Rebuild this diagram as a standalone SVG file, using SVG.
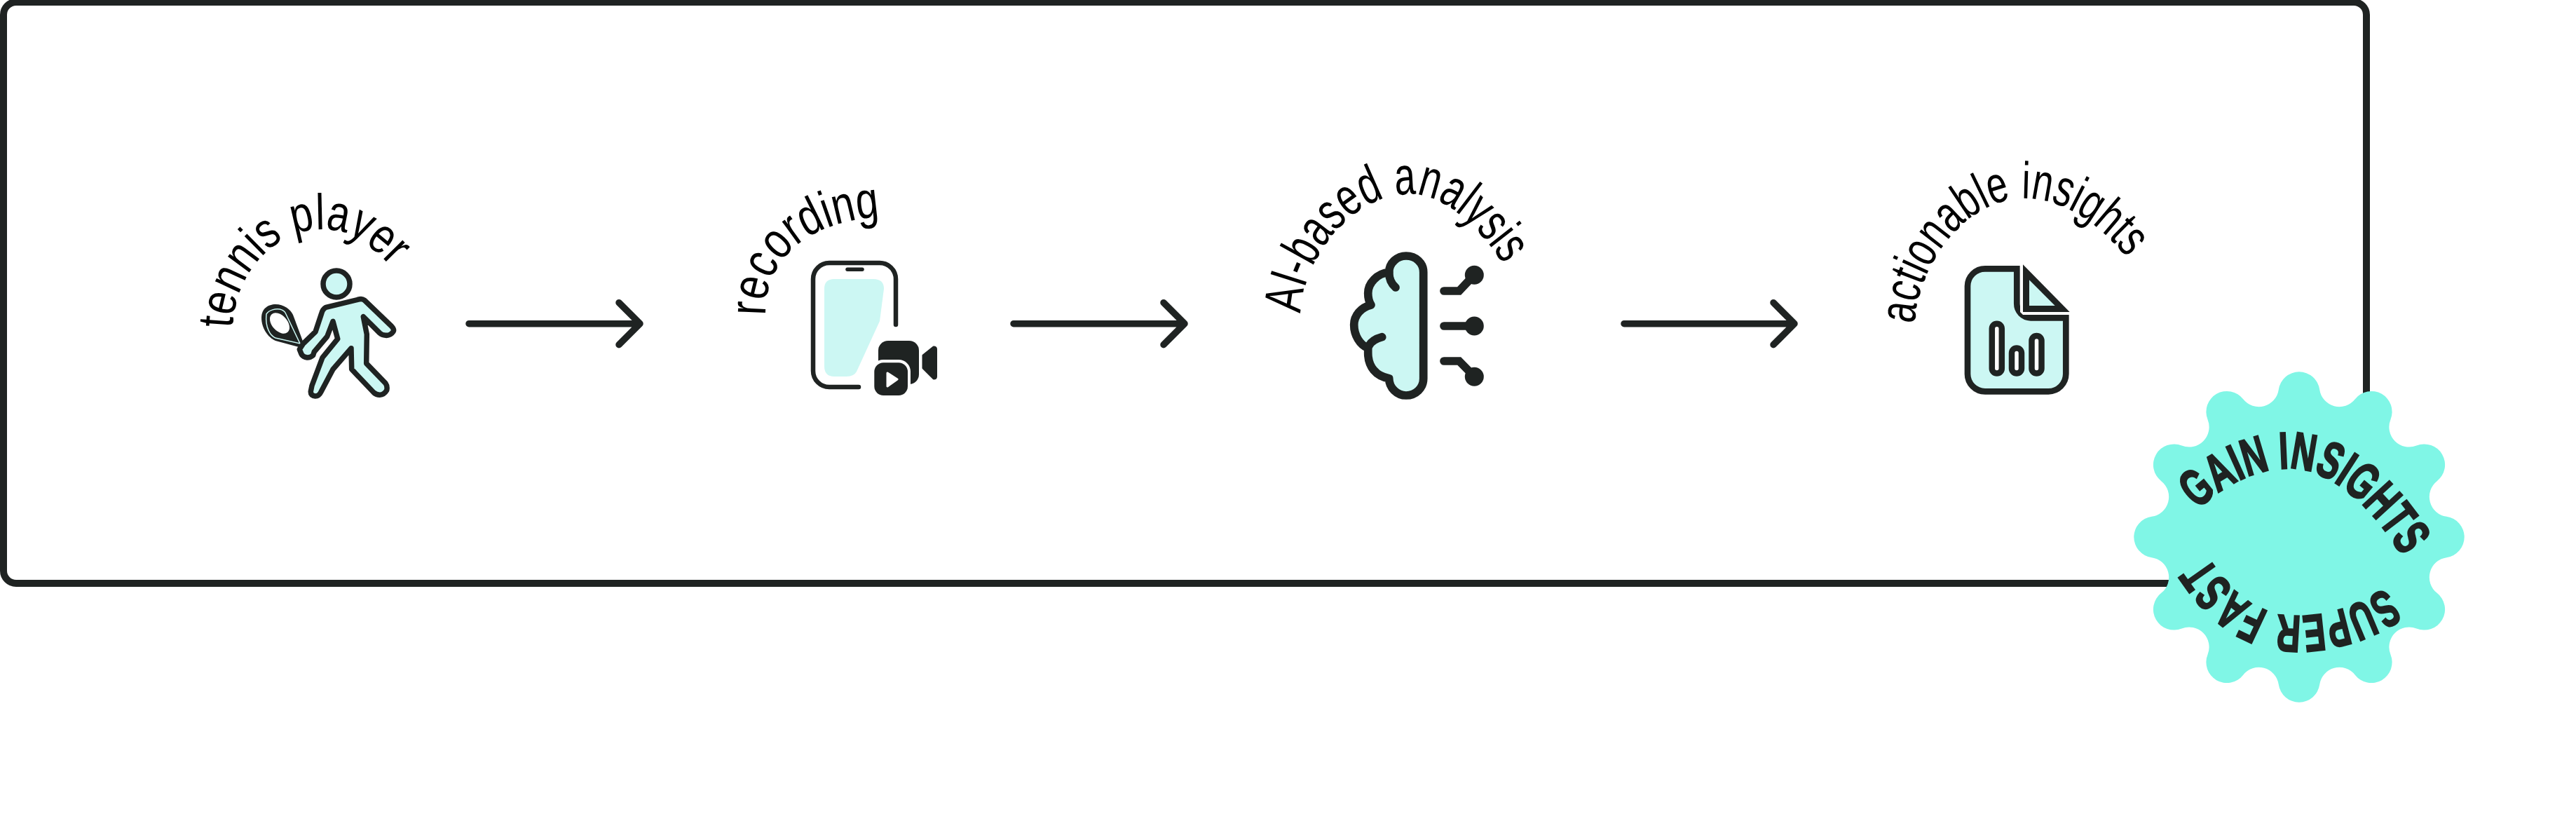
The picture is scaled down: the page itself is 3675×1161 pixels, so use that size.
<svg xmlns="http://www.w3.org/2000/svg" width="3675" height="1161" viewBox="0 0 3675 1161">
<style>
.ln{fill:none;stroke:#1f2322;stroke-linecap:round;stroke-linejoin:round}
.ic{fill:#ccf7f3;stroke:#1f2322;stroke-width:7.5;stroke-linejoin:round}
.lbl{font-family:"Liberation Sans",Arial,sans-serif;fill:#000}
.bd{font-family:"Liberation Sans",Arial,sans-serif;font-weight:700;font-size:74px;fill:#1f2322;stroke:#1f2322;stroke-width:2.5px}
.dk{fill:#1f2322}
.bar{fill:#fff;stroke:#1f2322;stroke-width:8.5}
</style>
<defs>
<path id="p1" d="M332,468 C333,400 385,328 458,327 C495,326 530,345 575,400"/>
<path id="p2" d="M1092,450 C1090,380 1140,312 1270,309"/>
<path id="p3" d="M1856,447 C1856,380 1920,280 2008,277 C2060,275 2120,325 2170,420"/>
<path id="p4" d="M2732,462 C2735,380 2800,290 2880,283 C2950,280 3010,330 3055,395"/>
<path id="p5" d="M3135,727 C3175,690 3220,668 3265,668 C3330,668 3395,730 3445,825"/>
<path id="p6" d="M3403,838 C3360,868 3310,881 3265,878 C3220,874 3175,846 3130,760"/>
</defs>
<rect width="3675" height="1161" fill="#fff"/>
<rect id="frame" x="5" y="3" width="3371" height="829" rx="18" fill="none" stroke="#1f2322" stroke-width="10"/>
<g id="connectors">
<path class="ln" stroke-width="9.5" d="M669,461.7 H913 M883,431.7 L913,461.7 L883,491.7"/>
<path class="ln" stroke-width="9.5" d="M1446,461.7 H1690 M1660,431.7 L1690,461.7 L1660,491.7"/>
<path class="ln" stroke-width="9.5" d="M2317,461.7 H2560 M2530,431.7 L2560,461.7 L2530,491.7"/>
</g>
<g id="tennis-player">
<text class="lbl" font-size="72"><textPath href="#p1" textLength="325" lengthAdjust="spacingAndGlyphs">tennis player</textPath></text>
<path class="dk" d="M373,453 C373,440 383,434 393,434 C405,434 414,441 418,449 L434,492 L430,496 L393,486 C382,481 373,468 373,453Z"/>
<path fill="none" stroke="#ccf7f3" stroke-width="1.5" d="M380,448 C384,442 393,440 399,441 C403,442 406,444 407,446 L428,490 L393,482 C386,479 378,468 380,448Z"/>
<ellipse cx="399" cy="461" rx="17" ry="11" transform="rotate(48 399 461)" fill="#fff"/>
<path class="ic" d="M465,438.3 L513.3,426.7 Q517,426 520,428.3 L558.3,465 Q563,470 561,473 Q557,479 550,478.3 Q545,478 541.7,475 L518.3,451.7 L523.3,476.7 L522.7,518.3 L550,546.7 Q553,551 551.7,556.7 Q548,563 541.7,563.3 Q537,563 533.3,560 L501.7,526.7 L501,496.7 L475,526.7 L458.3,558.3 Q455,565 450,565 Q443,564 443.3,558.3 L445,550 L460,510 L481.7,483.3 L475,458.3 L466.7,480 L448.3,501.7 L446.7,506.7 Q443,510 438.3,510 Q432,509 430,505 L427.3,498.3 L432.7,490 L450,473.3 L458.3,448.3 Q460,441 465,438.3Z"/>
<circle class="ic" cx="480" cy="405" r="19"/>
</g>
<g id="recording">
<text class="lbl" font-size="74"><textPath href="#p2" textLength="241" lengthAdjust="spacingAndGlyphs">recording</textPath></text>
<path fill="#ccf7f3" d="M1190,398 H1246 Q1261,398 1261,412 L1255,458 L1222,530 Q1218,537 1208,537 H1190 Q1176,537 1176,522 V412 Q1176,398 1190,398Z"/>
<path class="ln" stroke-width="6.5" d="M1278,463 V398 A23,23 0 0 0 1255,375 H1183 A23,23 0 0 0 1160,398 V529 A23,23 0 0 0 1183,552 H1225"/>
<path class="ln" stroke-width="5.5" d="M1209,384.3 H1230"/>
<rect class="dk" x="1253" y="486" width="58" height="62" rx="14"/>
<rect fill="#fff" x="1243" y="513" width="56" height="56" rx="17"/>
<rect class="dk" x="1247.3" y="517.3" width="47.7" height="46.7" rx="13"/>
<path fill="#fff" stroke="#fff" stroke-width="3" stroke-linejoin="round" d="M1266,532 L1280,541 L1266,551Z"/>
<path class="dk" stroke="#1f2322" stroke-width="3" stroke-linejoin="round" d="M1317,507 L1332,495 Q1335.500,495 1335.500,498 V537 Q1335.500,540 1332,540 L1317,525Z"/>
</g>
<g id="ai-analysis">
<text class="lbl" font-size="76"><textPath href="#p3" textLength="425" lengthAdjust="spacingAndGlyphs">AI-based analysis</textPath></text>
<path fill="#ccf7f3" stroke="#1f2322" stroke-width="11.700" stroke-linejoin="round" d="M1981.7,388.3 C1981.7,375 1993.3,365 2006,365 C2020,365 2030.7,375 2030.7,388.3 V540 C2030.7,553.3 2020,564 2006,564 C1993.3,564 1981.7,553.3 1981.7,539.7 C1963.3,536.7 1951.7,523.3 1951.7,503.3 V496.7 C1940,491.7 1931.7,478.3 1931.7,463.3 C1931.7,450 1941.7,438.3 1956,435 C1951.7,428.3 1951.7,423.3 1951.7,418.3 C1951.7,403.3 1965,390 1981.7,388.3 Z"/>
<path class="ln" stroke-width="11.700" d="M1981.7,388.3 C1981.7,396.7 1985,405 1991,410 M1953,493 C1957,486 1963,483 1971.7,480.7"/>
<path class="ln" stroke-width="11.700" style="stroke-linejoin:miter" d="M2060,415 H2081.700 L2103.300,392 M2060,465 H2103.300 M2060,515 H2081.700 L2103.300,537"/>
<circle class="dk" cx="2103.300" cy="392.300" r="13.500"/>
<circle class="dk" cx="2103.300" cy="465" r="13.500"/>
<circle class="dk" cx="2103.300" cy="537.300" r="13.500"/>
</g>
<g id="actionable-insights">
<text class="lbl" font-size="74"><textPath href="#p4" textLength="434" lengthAdjust="spacingAndGlyphs">actionable insights</textPath></text>
<path fill="#ccf7f3" stroke="#1f2322" stroke-width="8.700" stroke-linejoin="miter" d="M2877.3,383.3 H2832 A25,25 0 0 0 2807,408 V533 A25,25 0 0 0 2832,558.3 H2922 A25,25 0 0 0 2947.3,533 V453.3 H2897 A20,20 0 0 1 2877.3,433 Z"/>
<path class="dk" stroke="#fff" stroke-width="8" stroke-miterlimit="1" paint-order="stroke" d="M2886,377.3 L2952.7,445 H2886Z"/>
<path fill="#ccf7f3" d="M2895,399.3 L2931.7,436 H2895Z"/>
<rect class="bar" x="2841.800" y="461.800" width="14" height="70.800" rx="7"/>
<rect class="bar" x="2870" y="496.500" width="14" height="36" rx="7"/>
<rect class="bar" x="2898.500" y="479" width="14" height="53.500" rx="7"/>
</g>
<g id="badge">
<path transform="translate(3280 766)" fill="#80f6e6" d="M210.27,-29.22 A29.5,29.5 0 0 1 210.27,29.22 A28.5,28.5 0 0 0 196.71,79.83 A29.5,29.5 0 0 1 167.49,130.44 A28.5,28.5 0 0 0 130.44,167.49 A29.5,29.5 0 0 1 79.83,196.71 A28.5,28.5 0 0 0 29.22,210.27 A29.5,29.5 0 0 1 -29.22,210.27 A28.5,28.5 0 0 0 -79.83,196.71 A29.5,29.5 0 0 1 -130.44,167.49 A28.5,28.5 0 0 0 -167.49,130.44 A29.5,29.5 0 0 1 -196.71,79.83 A28.5,28.5 0 0 0 -210.27,29.22 A29.5,29.5 0 0 1 -210.27,-29.22 A28.5,28.5 0 0 0 -196.71,-79.83 A29.5,29.5 0 0 1 -167.49,-130.44 A28.5,28.5 0 0 0 -130.44,-167.49 A29.5,29.5 0 0 1 -79.83,-196.71 A28.5,28.5 0 0 0 -29.22,-210.27 A29.5,29.5 0 0 1 29.22,-210.27 A28.5,28.5 0 0 0 79.83,-196.71 A29.5,29.5 0 0 1 130.44,-167.49 A28.5,28.5 0 0 0 167.49,-130.44 A29.5,29.5 0 0 1 196.71,-79.83 A28.5,28.5 0 0 0 210.27,-29.22Z"/>
<text class="bd"><textPath href="#p5" textLength="360" lengthAdjust="spacingAndGlyphs">GAIN INSIGHTS</textPath></text>
<text class="bd"><textPath href="#p6" textLength="295" lengthAdjust="spacingAndGlyphs">SUPER FAST</textPath></text>
</g>
</svg>
